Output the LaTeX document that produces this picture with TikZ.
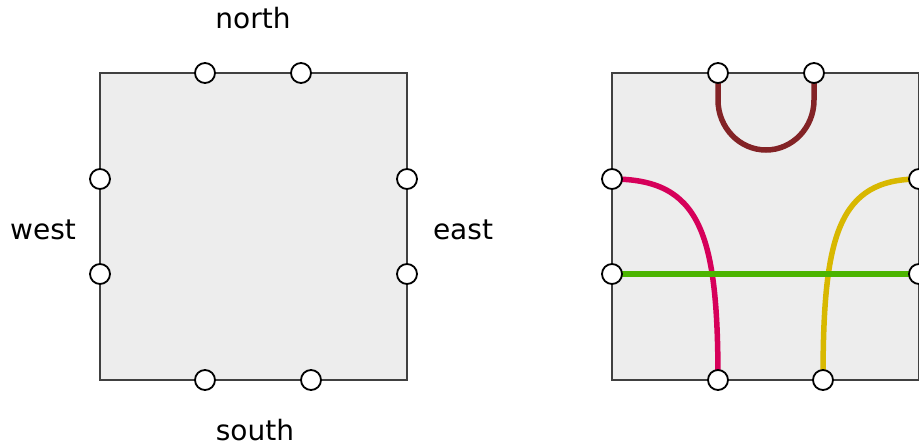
\documentclass[tikz,border=0pt]{standalone}
\usepackage{fontspec}
\setmainfont{DejaVu Sans}
\begin{document}
\begin{tikzpicture}[x=1pt,y=-1pt,
  panel/.style={draw=black!75,line width=1.5pt,fill=black!7},
  port/.style={circle,draw=black,line width=1.8pt,fill=white,minimum size=20pt,inner sep=0pt},
  lbl/.style={font=\fontsize{28}{32}\selectfont,inner sep=0pt},
  wire/.style={line width=5.5pt}]
\definecolor{cbrown}{HTML}{832326}
\definecolor{cpink}{HTML}{D6005A}
\definecolor{cgreen}{HTML}{4BB400}
\definecolor{cyellow}{HTML}{D8B800}
\useasboundingbox (0,0) rectangle (919,446);
% left panel
\node[panel,minimum width=307pt,minimum height=307pt,inner sep=0pt] (L) at (253.5,226.5) {};
\node[port] (ln1) at (205,73) {};
\node[port] (ln2) at (301,73) {};
\node[port] (lw1) at (100,179) {};
\node[port] (lw2) at (100,274) {};
\node[port] (le1) at (407,179) {};
\node[port] (le2) at (407,274) {};
\node[port] (ls1) at (205,380) {};
\node[port] (ls2) at (311,380) {};
\node[lbl] (tn) at (253,18) {north};
\node[lbl] (ts) at (255,430) {south};
\node[lbl] (tw) at (43,230) {west};
\node[lbl] (te) at (463,230) {east};
% right panel
\node[panel,minimum width=307pt,minimum height=307pt,inner sep=0pt] (R) at (765.5,226.5) {};
\coordinate (rn1) at (718,73);
\coordinate (rn2) at (814,73);
\coordinate (rw1) at (612,179);
\coordinate (rw2) at (612,274);
\coordinate (re1) at (919,179);
\coordinate (re2) at (919,274);
\coordinate (rs1) at (718,380);
\coordinate (rs2) at (823,380);
\draw[wire,cbrown] (rn1) -- (718,100) arc[start angle=180,end angle=0,x radius=48,y radius=50] -- (rn2);
\draw[wire,cpink] (rw1) .. controls (700,179) and (718,232) .. (rs1);
\draw[wire,cyellow] (re1) .. controls (838,179) and (823,236) .. (rs2);
\draw[wire,cgreen] (rw2) -- (re2);
\node[port] (pn1) at (rn1) {};
\node[port] (pn2) at (rn2) {};
\node[port] (pw1) at (rw1) {};
\node[port] (pw2) at (rw2) {};
\node[port] (pe1) at (re1) {};
\node[port] (pe2) at (re2) {};
\node[port] (ps1) at (rs1) {};
\node[port] (ps2) at (rs2) {};
\end{tikzpicture}
\end{document}
